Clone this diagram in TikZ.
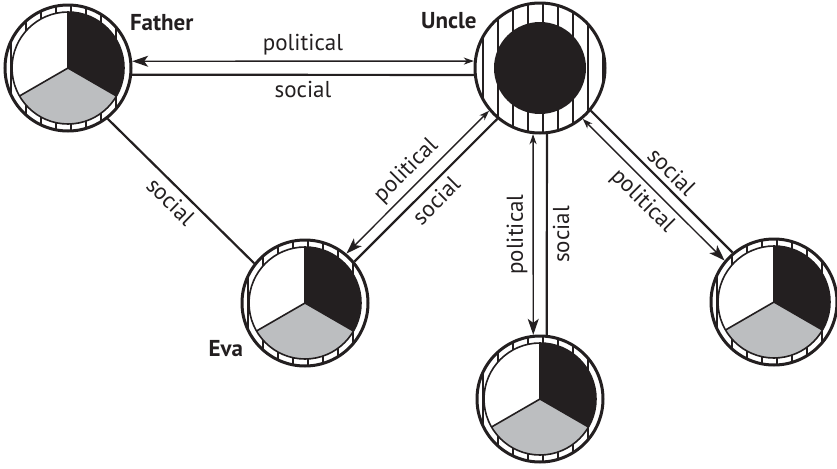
\documentclass[tikz,border=0pt]{standalone}
\usepackage{fontspec}
\setmainfont{PT Sans}
\usetikzlibrary{arrows.meta,positioning,calc}
\definecolor{ink}{HTML}{231F20}
\definecolor{piegrey}{HTML}{BCBEC0}

\begin{document}
\begin{tikzpicture}[
  x=0.5pt, y=0.5pt,
  font=\fontsize{11.5}{13}\selectfont,
  member/.style={circle, draw=ink, line width=1.5pt, minimum size=63pt, inner sep=0pt},
  stripe/.style={draw=ink, line width=0.6pt},
  slice/.style={draw=ink, line width=0.8pt},
  who/.style={font=\fontsize{11.5}{13}\selectfont\bfseries, text=ink, inner sep=0pt},
  lab/.style={text=ink, inner sep=2.5pt, sloped},
  uplab/.style={text=ink, inner sep=2.5pt, rotate=90},
  polit/.style={draw=ink, line width=0.7pt, {Stealth[length=8pt,width=5.5pt,inset=2pt]}-{Stealth[length=5pt,width=3.5pt,inset=1.5pt]}},
  soc/.style={draw=ink, line width=1.1pt}
]
\useasboundingbox (0,0) rectangle (837,468);
% family members
\node[member] (F) at (68,400) {};
\node[member, minimum size=65pt] (U) at (540,400) {};
\node[member] (E) at (305,165) {};
\node[member] (B) at (540,69) {};
\node[member] (R) at (774,166) {};
\node[who, right=8pt of F.north east] (fname) {Father};
\node[who, left=8pt of U.north west] (uname) {Uncle};
\node[who, left=8pt of E.south west] (ename) {Eva};
% striped rings
\foreach \n/\r in {F/63,U/65,E/63,B/63,R/63} {
  \begin{scope}
    \clip (\n.center) circle[radius=\r];
    \foreach \dx in {-72,-57,...,63}
      \draw[stripe] ($(\n.center)+(\dx,-70)$) -- ++(0,140);
  \end{scope}
}
% pies
\foreach \n in {F,E,B,R} {
  \fill[ink] (\n.center) -- ++(-30:56) arc[start angle=-30, end angle=90, radius=56] -- cycle;
  \fill[piegrey] (\n.center) -- ++(210:56) arc[start angle=210, end angle=330, radius=56] -- cycle;
  \fill[white] (\n.center) -- ++(90:56) arc[start angle=90, end angle=210, radius=56] -- cycle;
  \draw[slice] (\n.center) circle[radius=56];
  \draw[slice] (\n.center) -- ++(90:56) (\n.center) -- ++(210:56) (\n.center) -- ++(-30:56);
}
\fill[ink] (U.center) circle[radius=46];
% ties
\draw[polit] (F.6) -- node[lab, above] {political} (U.174);
\draw[soc] (F.354) -- node[lab, below] {social} (U.186);
\draw[soc] (F.308) -- node[lab, below] {social} (E.142);
\draw[polit] (E.50) -- node[lab, above] {political} (U.220);
\draw[soc] (E.40) -- node[lab, below] {social} (U.230);
\draw[polit] (B.96) -- node[uplab, anchor=south] {political} (U.264);
\draw[soc] (B.84) -- node[uplab, anchor=north] {social} (U.276);
\draw[polit] (R.140) -- node[lab, below] {political} (U.310);
\draw[soc] (R.130) -- node[lab, above] {social} (U.320);
\end{tikzpicture}
\end{document}
